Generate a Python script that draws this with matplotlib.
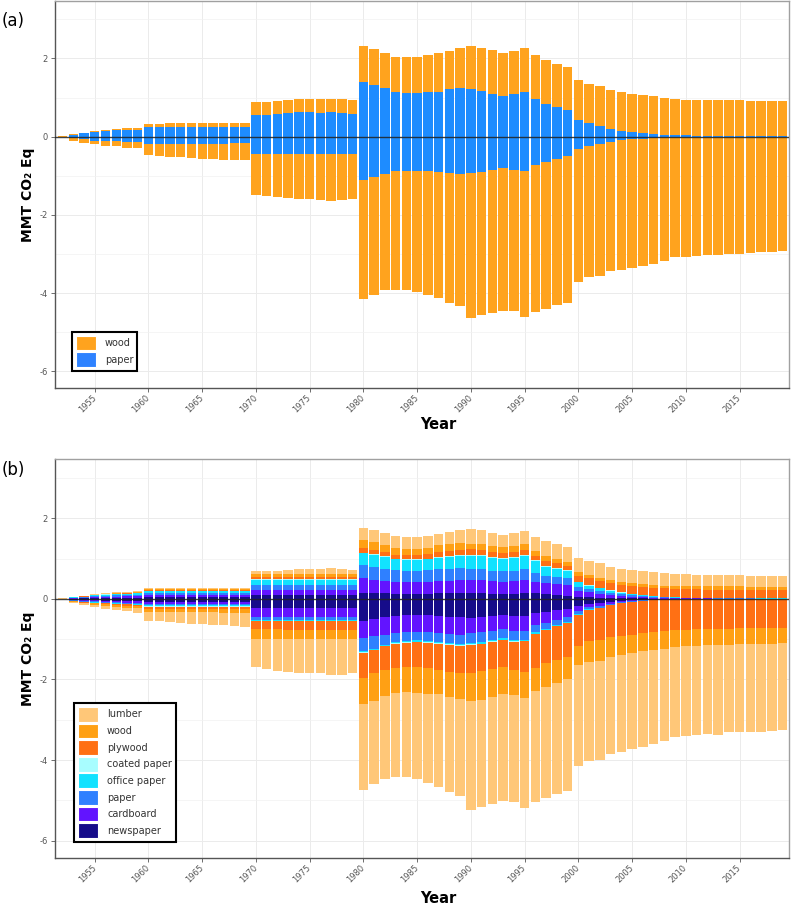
import matplotlib
matplotlib.use("Agg")
import matplotlib.pyplot as plt
from matplotlib.patches import Patch
import numpy as np

plt.rcParams['font.family'] = ['DejaVu Sans']
plt.rcParams['axes.unicode_minus'] = False

years = list(range(1952, 2020))
xtick_years = [1955, 1960, 1965, 1970, 1975, 1980, 1985, 1990, 1995, 2000, 2005, 2010, 2015]
ytick_vals = [-6, -4, -2, 0, 2]

# ---------------- Panel (a) ----------------
a_paper_pos = [0.0, 0.05, 0.085, 0.12, 0.15, 0.16, 0.17, 0.18,
               0.24, 0.24, 0.24, 0.24, 0.24, 0.25, 0.25, 0.25, 0.24, 0.24,
               0.56, 0.56, 0.58, 0.60, 0.63, 0.63, 0.60, 0.63, 0.60, 0.58,
               1.40, 1.33, 1.24, 1.13, 1.11, 1.11, 1.13, 1.15, 1.21, 1.24,
               1.21, 1.17, 1.09, 1.04, 1.09, 1.13, 0.96, 0.83, 0.75, 0.68,
               0.43, 0.34, 0.27, 0.20, 0.15, 0.11, 0.085, 0.07, 0.05, 0.04,
               0.03, 0.025, 0.02, 0.02, 0.015, 0.012, 0.01, 0.008, 0.006, 0.005]
a_wood_pos = [0.01, 0.02, 0.015, 0.03, 0.03, 0.04, 0.05, 0.04,
              0.08, 0.08, 0.10, 0.10, 0.11, 0.11, 0.11, 0.11, 0.12, 0.12,
              0.33, 0.32, 0.34, 0.34, 0.33, 0.33, 0.36, 0.33, 0.36, 0.35,
              0.92, 0.91, 0.89, 0.91, 0.93, 0.93, 0.96, 0.99, 0.99, 1.02,
              1.11, 1.11, 1.12, 1.10, 1.11, 1.13, 1.13, 1.14, 1.12, 1.11,
              1.02, 1.00, 1.02, 0.99, 0.98, 0.98, 0.975, 0.97, 0.95, 0.93,
              0.92, 0.925, 0.92, 0.92, 0.915, 0.918, 0.91, 0.902, 0.894, 0.895]
a_paper_neg = [0.0, 0.04, 0.07, 0.10, 0.11, 0.12, 0.13, 0.14,
               0.19, 0.18, 0.18, 0.18, 0.18, 0.18, 0.18, 0.18, 0.17, 0.17,
               0.44, 0.44, 0.45, 0.45, 0.45, 0.45, 0.45, 0.45, 0.45, 0.44,
               1.10, 1.04, 0.95, 0.89, 0.88, 0.87, 0.89, 0.90, 0.93, 0.95,
               0.93, 0.90, 0.85, 0.81, 0.85, 0.87, 0.73, 0.65, 0.57, 0.49,
               0.32, 0.25, 0.19, 0.14, 0.09, 0.07, 0.05, 0.03, 0.02, 0.015,
               0.01, 0.01, 0.01, 0.01, 0.01, 0.005, 0.005, 0.005, 0.004, 0.004]
a_wood_neg = [0.01, 0.06, 0.09, 0.10, 0.13, 0.13, 0.15, 0.16,
              0.27, 0.31, 0.33, 0.35, 0.37, 0.38, 0.40, 0.42, 0.43, 0.44,
              1.04, 1.07, 1.10, 1.13, 1.14, 1.15, 1.17, 1.20, 1.17, 1.16,
              3.06, 3.01, 2.98, 3.04, 3.05, 3.11, 3.17, 3.24, 3.32, 3.39,
              3.70, 3.67, 3.67, 3.66, 3.61, 3.74, 3.76, 3.75, 3.73, 3.76,
              3.40, 3.35, 3.38, 3.30, 3.31, 3.29, 3.27, 3.22, 3.17, 3.065,
              3.06, 3.04, 3.03, 3.02, 2.98, 2.985, 2.975, 2.955, 2.946, 2.926]

# ---------------- Panel (b) ----------------
b_categories = ['newspaper', 'cardboard', 'paper', 'office paper', 'coated paper',
                'plywood', 'wood', 'lumber']

b_pos = {
    'newspaper': [0.002, 0.008, 0.013, 0.02, 0.025, 0.028, 0.03, 0.033,
                  0.045, 0.045, 0.045, 0.045, 0.045, 0.045, 0.045, 0.045, 0.045, 0.045,
                  0.10, 0.10, 0.10, 0.10, 0.10, 0.10, 0.10, 0.10, 0.10, 0.10,
                  0.15, 0.15, 0.14, 0.13, 0.13, 0.13, 0.13, 0.14, 0.14, 0.15,
                  0.14, 0.14, 0.13, 0.13, 0.13, 0.14, 0.14, 0.12, 0.10, 0.08,
                  0.05, 0.04, 0.03, 0.025, 0.02, 0.015, 0.01, 0.008, 0.006, 0.005,
                  0.004, 0.003, 0.003, 0.002, 0.002, 0.002, 0.002, 0.001, 0.001, 0.001],
    'cardboard': [0.0, 0.008, 0.013, 0.02, 0.025, 0.028, 0.03, 0.033,
                  0.045, 0.045, 0.045, 0.045, 0.045, 0.045, 0.045, 0.045, 0.045, 0.045,
                  0.12, 0.12, 0.12, 0.12, 0.12, 0.12, 0.12, 0.12, 0.12, 0.12,
                  0.36, 0.33, 0.31, 0.29, 0.28, 0.28, 0.29, 0.30, 0.31, 0.32,
                  0.33, 0.33, 0.31, 0.30, 0.31, 0.33, 0.29, 0.27, 0.27, 0.27,
                  0.15, 0.12, 0.10, 0.075, 0.055, 0.04, 0.032, 0.025, 0.018, 0.014,
                  0.01, 0.009, 0.007, 0.006, 0.005, 0.004, 0.004, 0.004, 0.004, 0.003],
    'paper': [0.0, 0.008, 0.013, 0.02, 0.025, 0.028, 0.03, 0.033,
              0.045, 0.045, 0.045, 0.045, 0.045, 0.045, 0.045, 0.045, 0.045, 0.045,
              0.13, 0.13, 0.13, 0.13, 0.13, 0.13, 0.13, 0.13, 0.13, 0.13,
              0.33, 0.31, 0.30, 0.29, 0.29, 0.29, 0.29, 0.30, 0.30, 0.30,
              0.26, 0.27, 0.26, 0.25, 0.26, 0.27, 0.20, 0.18, 0.17, 0.16,
              0.10, 0.08, 0.065, 0.05, 0.04, 0.03, 0.022, 0.017, 0.012, 0.01,
              0.007, 0.006, 0.005, 0.004, 0.004, 0.003, 0.003, 0.003, 0.002, 0.003],
    'office paper': [0.0, 0.01, 0.016, 0.024, 0.03, 0.034, 0.036, 0.04,
                     0.06, 0.06, 0.06, 0.06, 0.06, 0.06, 0.06, 0.06, 0.06, 0.06,
                     0.11, 0.11, 0.11, 0.11, 0.11, 0.11, 0.11, 0.11, 0.11, 0.11,
                     0.29, 0.31, 0.30, 0.27, 0.26, 0.26, 0.27, 0.28, 0.29, 0.30,
                     0.33, 0.32, 0.31, 0.30, 0.31, 0.32, 0.31, 0.23, 0.20, 0.19,
                     0.12, 0.09, 0.075, 0.055, 0.04, 0.03, 0.023, 0.018, 0.013, 0.01,
                     0.008, 0.006, 0.005, 0.005, 0.004, 0.004, 0.003, 0.003, 0.003, 0.003],
    'coated paper': [0.0, 0.002, 0.002, 0.003, 0.004, 0.004, 0.005, 0.005,
                     0.01, 0.01, 0.01, 0.01, 0.01, 0.01, 0.01, 0.01, 0.01, 0.01,
                     0.03, 0.03, 0.03, 0.03, 0.03, 0.03, 0.03, 0.03, 0.03, 0.03,
                     0.02, 0.02, 0.02, 0.02, 0.02, 0.02, 0.02, 0.03, 0.03, 0.03,
                     0.03, 0.03, 0.03, 0.03, 0.03, 0.03, 0.02, 0.02, 0.02, 0.02,
                     0.01, 0.01, 0.01, 0.005, 0.005, 0.005, 0.003, 0.002, 0.001, 0.001,
                     0.001, 0.001, 0.0, 0.0, 0.0, 0.0, 0.0, 0.0, 0.0, 0.0],
    'plywood': [0.0, 0.002, 0.004, 0.006, 0.008, 0.01, 0.01, 0.01,
                0.01, 0.01, 0.01, 0.01, 0.01, 0.01, 0.01, 0.01, 0.01, 0.01,
                0.04, 0.04, 0.04, 0.04, 0.04, 0.04, 0.04, 0.04, 0.04, 0.04,
                0.10, 0.10, 0.10, 0.10, 0.10, 0.10, 0.11, 0.12, 0.12, 0.12,
                0.14, 0.13, 0.12, 0.12, 0.12, 0.13, 0.11, 0.11, 0.12, 0.10,
                0.14, 0.17, 0.16, 0.18, 0.19, 0.20, 0.21, 0.21, 0.21, 0.21,
                0.215, 0.21, 0.21, 0.21, 0.21, 0.21, 0.205, 0.205, 0.205, 0.205],
    'wood': [0.0, 0.004, 0.006, 0.008, 0.01, 0.012, 0.013, 0.015,
             0.025, 0.025, 0.025, 0.025, 0.025, 0.025, 0.025, 0.025, 0.025, 0.025,
             0.08, 0.08, 0.08, 0.08, 0.08, 0.08, 0.08, 0.08, 0.08, 0.08,
             0.22, 0.19, 0.16, 0.16, 0.16, 0.16, 0.16, 0.16, 0.16, 0.16,
             0.13, 0.14, 0.15, 0.15, 0.15, 0.15, 0.12, 0.14, 0.10, 0.10,
             0.10, 0.08, 0.08, 0.08, 0.08, 0.07, 0.06, 0.07, 0.07, 0.07,
             0.085, 0.085, 0.085, 0.085, 0.085, 0.085, 0.085, 0.085, 0.085, 0.085],
    'lumber': [0.008, 0.005, 0.008, 0.012, 0.015, 0.018, 0.018, 0.022,
               0.02, 0.02, 0.02, 0.03, 0.03, 0.03, 0.03, 0.03, 0.03, 0.03,
               0.07, 0.07, 0.09, 0.11, 0.12, 0.12, 0.12, 0.15, 0.12, 0.11,
               0.30, 0.30, 0.30, 0.29, 0.30, 0.30, 0.29, 0.27, 0.31, 0.34,
               0.37, 0.35, 0.33, 0.30, 0.33, 0.32, 0.34, 0.36, 0.37, 0.36,
               0.34, 0.35, 0.36, 0.33, 0.31, 0.33, 0.33, 0.31, 0.30, 0.29,
               0.28, 0.28, 0.275, 0.278, 0.27, 0.272, 0.268, 0.269, 0.27, 0.27],
}

b_neg = {
    'newspaper': [0.002, 0.025, 0.035, 0.04, 0.05, 0.055, 0.06, 0.065,
                  0.07, 0.07, 0.07, 0.07, 0.07, 0.07, 0.07, 0.07, 0.07, 0.07,
                  0.22, 0.22, 0.22, 0.22, 0.22, 0.22, 0.22, 0.22, 0.22, 0.22,
                  0.56, 0.50, 0.44, 0.42, 0.41, 0.40, 0.41, 0.42, 0.44, 0.46,
                  0.48, 0.46, 0.43, 0.41, 0.43, 0.43, 0.36, 0.32, 0.28, 0.25,
                  0.17, 0.12, 0.10, 0.07, 0.05, 0.03, 0.022, 0.018, 0.013, 0.009,
                  0.007, 0.006, 0.005, 0.005, 0.004, 0.004, 0.004, 0.003, 0.003, 0.003],
    'cardboard': [0.0, 0.015, 0.02, 0.025, 0.03, 0.033, 0.036, 0.04,
                  0.05, 0.05, 0.05, 0.05, 0.05, 0.05, 0.05, 0.05, 0.05, 0.05,
                  0.22, 0.22, 0.22, 0.22, 0.22, 0.22, 0.22, 0.22, 0.22, 0.22,
                  0.41, 0.42, 0.45, 0.42, 0.42, 0.42, 0.42, 0.42, 0.43, 0.43,
                  0.37, 0.37, 0.36, 0.35, 0.36, 0.36, 0.30, 0.27, 0.24, 0.21,
                  0.13, 0.09, 0.08, 0.055, 0.037, 0.024, 0.017, 0.013, 0.01, 0.007,
                  0.005, 0.005, 0.004, 0.004, 0.003, 0.003, 0.003, 0.003, 0.002, 0.002],
    'paper': [0.0, 0.01, 0.015, 0.02, 0.022, 0.025, 0.027, 0.03,
              0.04, 0.04, 0.04, 0.04, 0.04, 0.04, 0.04, 0.04, 0.04, 0.04,
              0.08, 0.08, 0.08, 0.08, 0.08, 0.08, 0.08, 0.08, 0.08, 0.08,
              0.33, 0.32, 0.25, 0.23, 0.22, 0.21, 0.22, 0.23, 0.23, 0.23,
              0.25, 0.25, 0.23, 0.22, 0.23, 0.22, 0.17, 0.15, 0.13, 0.11,
              0.07, 0.045, 0.04, 0.028, 0.018, 0.012, 0.008, 0.006, 0.005, 0.003,
              0.002, 0.002, 0.002, 0.002, 0.002, 0.002, 0.002, 0.002, 0.002, 0.002],
    'office paper': [0.0, 0.004, 0.006, 0.008, 0.01, 0.011, 0.012, 0.013,
                     0.025, 0.025, 0.025, 0.025, 0.025, 0.025, 0.025, 0.025, 0.025, 0.025,
                     0.02, 0.02, 0.02, 0.02, 0.02, 0.02, 0.02, 0.02, 0.02, 0.02,
                     0.03, 0.03, 0.03, 0.03, 0.03, 0.03, 0.03, 0.03, 0.03, 0.03,
                     0.03, 0.03, 0.03, 0.03, 0.03, 0.03, 0.03, 0.025, 0.02, 0.018,
                     0.02, 0.012, 0.008, 0.006, 0.004, 0.003, 0.002, 0.002, 0.001, 0.001,
                     0.001, 0.001, 0.001, 0.001, 0.001, 0.001, 0.001, 0.001, 0.001, 0.001],
    'coated paper': [0.0, 0.001, 0.001, 0.002, 0.002, 0.002, 0.003, 0.003,
                     0.01, 0.01, 0.01, 0.01, 0.01, 0.01, 0.01, 0.01, 0.01, 0.01,
                     0.01, 0.01, 0.01, 0.01, 0.01, 0.01, 0.01, 0.01, 0.01, 0.01,
                     0.01, 0.01, 0.01, 0.01, 0.01, 0.01, 0.01, 0.01, 0.01, 0.01,
                     0.01, 0.01, 0.01, 0.01, 0.01, 0.01, 0.01, 0.01, 0.01, 0.01,
                     0.01, 0.005, 0.002, 0.001, 0.001, 0.001, 0.001, 0.0, 0.0, 0.0,
                     0.0, 0.0, 0.0, 0.0, 0.0, 0.0, 0.0, 0.0, 0.0, 0.0],
    'plywood': [0.0, 0.01, 0.015, 0.02, 0.025, 0.028, 0.032, 0.035,
                0.05, 0.05, 0.055, 0.055, 0.06, 0.06, 0.06, 0.065, 0.065, 0.065,
                0.21, 0.21, 0.21, 0.22, 0.22, 0.22, 0.22, 0.22, 0.22, 0.22,
                0.62, 0.56, 0.58, 0.60, 0.60, 0.62, 0.62, 0.65, 0.67, 0.68,
                0.70, 0.68, 0.68, 0.68, 0.70, 0.76, 0.84, 0.815, 0.83, 0.84,
                0.76, 0.78, 0.78, 0.79, 0.80, 0.82, 0.80, 0.79, 0.78, 0.76,
                0.755, 0.745, 0.745, 0.735, 0.735, 0.725, 0.725, 0.715, 0.715, 0.715],
    'wood': [0.0, 0.015, 0.02, 0.03, 0.035, 0.04, 0.045, 0.05,
             0.08, 0.08, 0.08, 0.08, 0.08, 0.08, 0.08, 0.08, 0.08, 0.08,
             0.23, 0.23, 0.23, 0.23, 0.23, 0.23, 0.23, 0.23, 0.23, 0.23,
             0.66, 0.70, 0.64, 0.62, 0.63, 0.64, 0.64, 0.61, 0.62, 0.64,
             0.70, 0.70, 0.69, 0.66, 0.63, 0.66, 0.58, 0.60, 0.57, 0.55,
             0.49, 0.52, 0.52, 0.50, 0.48, 0.45, 0.45, 0.45, 0.43, 0.42,
             0.41, 0.41, 0.40, 0.40, 0.39, 0.39, 0.39, 0.39, 0.39, 0.38],
    'lumber': [0.008, 0.03, 0.048, 0.045, 0.066, 0.076, 0.095, 0.104,
               0.215, 0.235, 0.25, 0.27, 0.285, 0.295, 0.305, 0.32, 0.33, 0.35,
               0.70, 0.74, 0.81, 0.81, 0.84, 0.84, 0.85, 0.88, 0.88, 0.84,
               2.12, 2.06, 2.06, 2.10, 2.11, 2.14, 2.22, 2.29, 2.36, 2.42,
               2.69, 2.66, 2.66, 2.66, 2.65, 2.72, 2.76, 2.76, 2.75, 2.77,
               2.50, 2.44, 2.46, 2.41, 2.41, 2.39, 2.38, 2.33, 2.30, 2.22,
               2.22, 2.22, 2.20, 2.22, 2.18, 2.19, 2.17, 2.18, 2.16, 2.14],
}

a_colors = {'wood': '#FFA31E', 'paper': '#1E8CFF'}
b_colors = {'lumber': '#FFC778', 'wood': '#FFA014', 'plywood': '#FF7014',
            'coated paper': '#A8FDFF', 'office paper': '#12E2FF', 'paper': '#2F80FF',
            'cardboard': '#6214FF', 'newspaper': '#160C8A'}

W, H = 794, 908
fig = plt.figure(figsize=(W / 100, H / 100), dpi=100)

def px_axes(left, top, right, bottom):
    return fig.add_axes([left / W, 1 - bottom / H, (right - left) / W, (bottom - top) / H])

ax_a = px_axes(55, 1, 789, 388)
ax_b = px_axes(55, 459, 789, 858)

BW = 0.88

def style(ax):
    ax.set_xlim(1951.3, 2019.6)
    ax.set_ylim(-6.43, 3.47)
    ax.set_yticks(ytick_vals)
    ax.set_yticklabels([str(v) for v in ytick_vals])
    ax.set_yticks([-5, -3, -1, 1, 3], minor=True)
    ax.set_xticks(xtick_years)
    ax.set_xticklabels([str(y) for y in xtick_years], rotation=45, ha='right',
                       va='center', rotation_mode='anchor')
    ax.tick_params(axis='both', which='major', labelsize=6, labelcolor='#555555',
                   color='#555555', length=3, width=0.6)
    ax.tick_params(axis='x', pad=3)
    ax.tick_params(axis='y', pad=2)
    ax.tick_params(axis='y', which='minor', length=0)
    ax.grid(True, which='major', color='#ebebeb', lw=0.7)
    ax.grid(True, which='minor', axis='y', color='#f2f2f2', lw=0.5)
    ax.set_axisbelow(True)
    for s in ['left', 'bottom']:
        ax.spines[s].set_color('#555555')
        ax.spines[s].set_linewidth(1.0)
    for s in ['top', 'right']:
        ax.spines[s].set_color('#a0a0a0')
        ax.spines[s].set_linewidth(1.0)
    ax.axhline(0, color='#222222', lw=1.0, alpha=0.85, zorder=5)

# panel (a)
yr = np.array(years)
pos_bottom = np.zeros(len(years))
neg_bottom = np.zeros(len(years))
for name, pv, nv in [('paper', a_paper_pos, a_paper_neg), ('wood', a_wood_pos, a_wood_neg)]:
    pv = np.array(pv); nv = np.array(nv)
    ax_a.bar(yr, pv, bottom=pos_bottom, width=BW, color=a_colors[name], lw=0, zorder=2)
    ax_a.bar(yr, -nv, bottom=-neg_bottom, width=BW, color=a_colors[name], lw=0, zorder=2)
    pos_bottom += pv
    neg_bottom += nv
style(ax_a)
handles_a = [Patch(facecolor=a_colors['wood'], edgecolor='white', lw=0.8, label='wood'),
             Patch(facecolor='#2E82FF', edgecolor='white', lw=0.8, label='paper')]
leg_a = ax_a.legend(handles=handles_a, loc='lower left',
                    bbox_to_anchor=((72 - 55) / 734, (388 - 371) / 387),
                    borderaxespad=0, fontsize=7, handlelength=2.1, handleheight=1.95,
                    labelspacing=0.2, handletextpad=0.9, borderpad=0.4,
                    fancybox=False, framealpha=1, edgecolor='black')
leg_a.get_frame().set_linewidth(1.5)
for t in leg_a.get_texts():
    t.set_color('#333333')

# panel (b)
pos_bottom = np.zeros(len(years))
neg_bottom = np.zeros(len(years))
for name in b_categories:
    pv = np.array(b_pos[name]); nv = np.array(b_neg[name])
    ax_b.bar(yr, pv, bottom=pos_bottom, width=BW, color=b_colors[name], lw=0, zorder=2)
    ax_b.bar(yr, -nv, bottom=-neg_bottom, width=BW, color=b_colors[name], lw=0, zorder=2)
    pos_bottom += pv
    neg_bottom += nv
style(ax_b)
handles_b = [Patch(facecolor=b_colors[n], edgecolor='white', lw=0.8, label=n)
             for n in reversed(b_categories)]
leg_b = ax_b.legend(handles=handles_b, loc='lower left',
                    bbox_to_anchor=((74 - 55) / 734, (858 - 842) / 399),
                    borderaxespad=0, fontsize=7, handlelength=2.1, handleheight=1.95,
                    labelspacing=0.2, handletextpad=0.9, borderpad=0.4,
                    fancybox=False, framealpha=1, edgecolor='black')
leg_b.get_frame().set_linewidth(1.5)
for t in leg_b.get_texts():
    t.set_color('#333333')

# labels
fig.text(2 / W, 1 - 21 / H, '(a)', fontsize=12, va='center', ha='left')
fig.text(2 / W, 1 - 470 / H, '(b)', fontsize=12, va='center', ha='left')
fig.text(28 / W, 1 - 194.5 / H, 'MMT CO₂ Eq', rotation=90, fontweight='bold',
         fontsize=10, ha='center', va='center')
fig.text(28 / W, 1 - 658.5 / H, 'MMT CO₂ Eq', rotation=90, fontweight='bold',
         fontsize=10, ha='center', va='center')
fig.text(438 / W, 1 - 424 / H, 'Year', fontweight='bold', fontsize=10.5,
         ha='center', va='center')
fig.text(438 / W, 1 - 898.5 / H, 'Year', fontweight='bold', fontsize=10.5,
         ha='center', va='center')

fig.savefig('out.png', dpi=100)
